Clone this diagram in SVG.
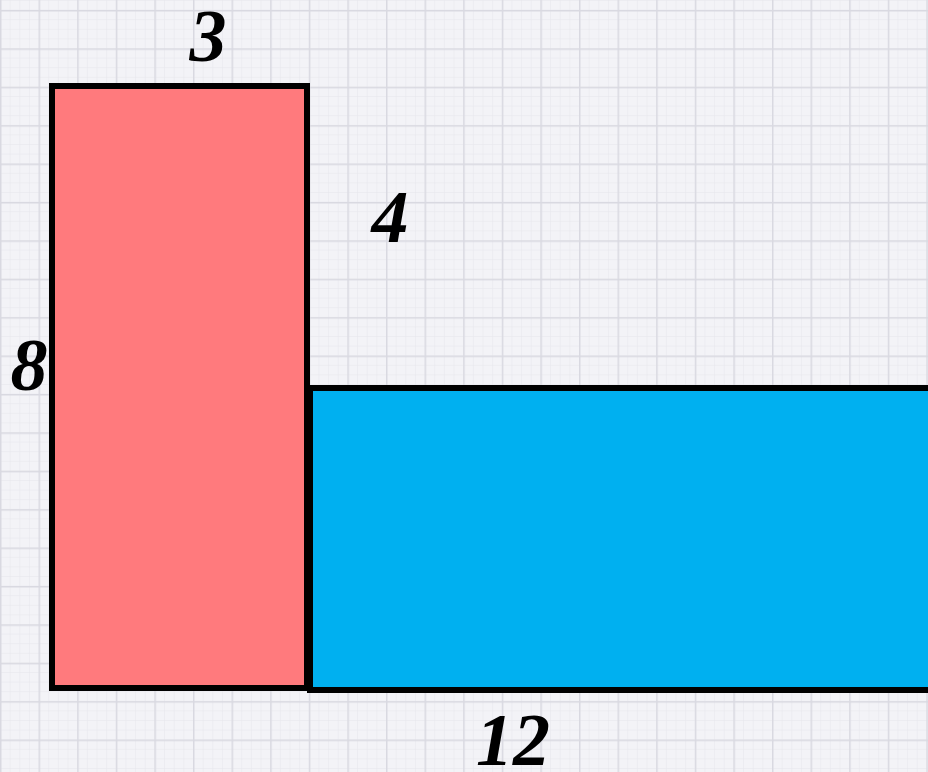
<svg xmlns="http://www.w3.org/2000/svg" width="928" height="772" viewBox="0 0 928 772">
<style>
.lbl{font-family:"Liberation Serif","Times New Roman",serif;font-weight:bold;font-style:italic;font-size:74px;fill:#000;text-anchor:middle}
.sh{stroke:#000;stroke-width:6}
</style>
<defs>
<pattern id="minor" width="9.65" height="9.6" patternUnits="userSpaceOnUse">
<path d="M0 0V9.6M0 0H9.65" fill="none" stroke="#E6E6EC" stroke-width="1"/>
</pattern>
<pattern id="major" x="0" y="10" width="38.6" height="38.4" patternUnits="userSpaceOnUse">
<path d="M0.5 0V38.4M0 0.5H38.6" fill="none" stroke="#D9D9E1" stroke-width="2"/>
</pattern>
</defs>
<rect width="928" height="772" fill="#F3F3F7"/>
<rect width="928" height="772" fill="url(#minor)"/>
<rect width="928" height="772" fill="url(#major)"/>
<g id="blue-rect"><rect class="sh" x="310" y="388" width="630" height="302" fill="#00B0F0"/></g>
<g id="red-rect"><rect class="sh" x="52" y="86" width="255" height="602" fill="#FF7A7D"/></g>
<g id="labels">
<text class="lbl" x="208" y="61">3</text>
<text class="lbl" x="390" y="242">4</text>
<text class="lbl" x="29" y="390">8</text>
<text class="lbl" x="513" y="765">12</text>
</g>
</svg>
